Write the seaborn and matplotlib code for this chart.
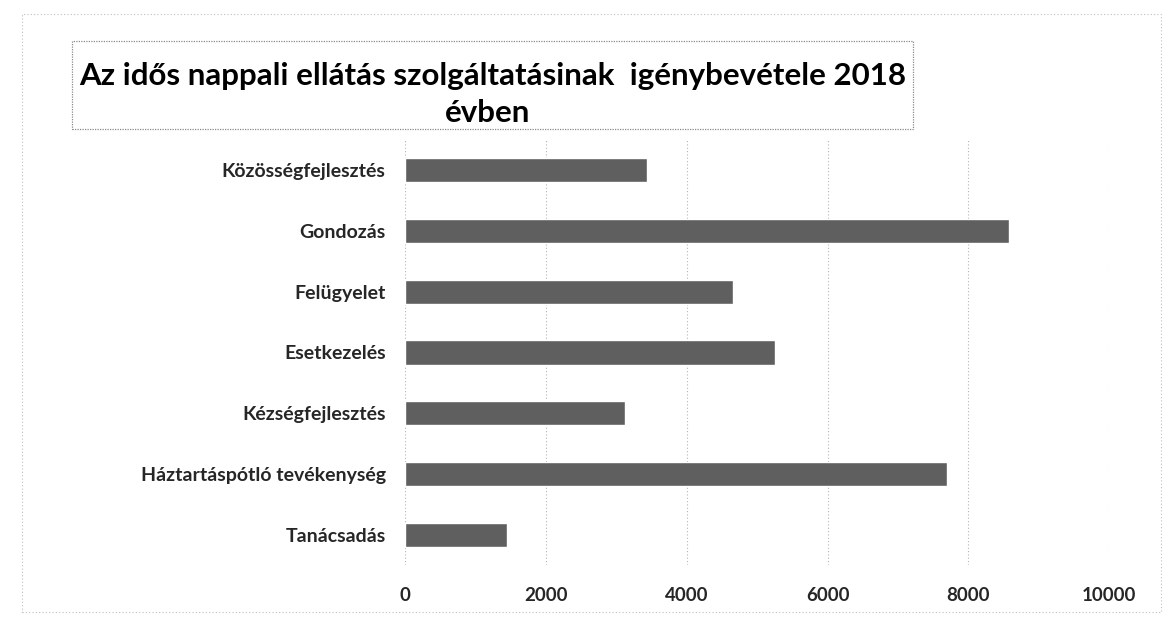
import matplotlib
matplotlib.use("Agg")
import matplotlib.pyplot as plt
from matplotlib.patches import Rectangle
import pandas as pd
import seaborn as sns

# ─── Data ──────────────────────────────────────────────────────────────────────
categories = ["Közösségfejlesztés", "Gondozás", "Felügyelet", "Esetkezelés",
              "Kézségfejlesztés", "Háztartáspótló tevékenység", "Tanácsadás"]
values = [3430, 8570, 4660, 5250, 3130, 7700, 1450]
xticks = [0, 2000, 4000, 6000, 8000, 10000]
title_lines = ["Az idős nappali ellátás szolgáltatásinak  igénybevétele 2018", "évben"]

BAR_COLOR = "#5f5f5f"
FONT = ["Lato", "DejaVu Sans"]

sns.set_style("white")
plt.rcParams["font.family"] = FONT

df = pd.DataFrame({"category": categories, "value": values})

fig = plt.figure(figsize=(11.64, 6.3), dpi=100)
ax = fig.add_axes([0.348, 0.103, 0.605, 0.675])

sns.barplot(data=df, x="value", y="category", order=categories,
            color=BAR_COLOR, width=0.4, saturation=1, ax=ax)

ax.set_xlim(0, 10000)
ax.set_xticks(xticks)
ax.set_xticklabels([str(t) for t in xticks], fontsize=13.5, fontweight="bold")
ax.set_yticks(range(len(categories)))
ax.set_yticklabels(categories, fontsize=14, fontweight="bold")
ax.tick_params(axis="x", length=0, pad=16)
ax.tick_params(axis="y", length=0, pad=14)
ax.set_xlabel("")
ax.set_ylabel("")
for s in ax.spines.values():
    s.set_visible(False)

# faint dotted gridlines like the scan
ax.xaxis.grid(True, color="#b5b5b5", linestyle=(0, (1, 2)), linewidth=0.8)
ax.set_axisbelow(True)

# outer chart frame
fig.patches.append(Rectangle((0.019, 0.028), 0.978, 0.95, transform=fig.transFigure,
                             fill=False, edgecolor="#c0c0c0", linestyle=(0, (1, 2)),
                             linewidth=0.8))

# title box
fig.patches.append(Rectangle((0.062, 0.795), 0.722, 0.14, transform=fig.transFigure,
                             fill=False, edgecolor="#8a8a8a", linestyle=(0, (1, 1)),
                             linewidth=0.9))
fig.text(0.423, 0.88, title_lines[0], ha="center", va="center",
         fontsize=22.5, fontweight="bold", color="black")
fig.text(0.419, 0.82, title_lines[1], ha="center", va="center",
         fontsize=22.5, fontweight="bold", color="black")

fig.savefig("out.png", dpi=100)
